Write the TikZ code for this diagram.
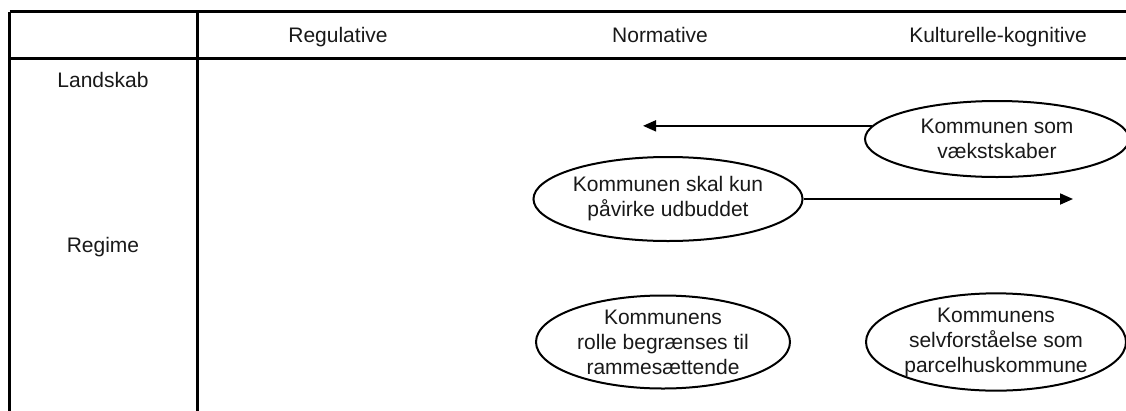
\documentclass[tikz,border=0pt]{standalone}
\usepackage{fontspec}
\setmainfont{Liberation Sans}
\usetikzlibrary{shapes.geometric,arrows.meta}
\begin{document}
\begin{tikzpicture}[x=1pt,y=-1pt,
  lbl/.style={font=\fontsize{21}{25}\selectfont, text=black!90, inner sep=0pt, anchor=base},
  oval/.style={ellipse, draw, line width=2pt, inner sep=0pt, font=\fontsize{21}{25}\selectfont, text=black!90, align=center},
  arr/.style={line width=1.8pt, -{Triangle[length=13pt,width=11pt]}},
  grid/.style={line width=2.3pt}]
\useasboundingbox (0,0) rectangle (1126,410);
\fill[white] (0,0) rectangle (1126,410);
% table
\coordinate (tl) at (9.5,11.5);
\coordinate (tr) at (1128,11.5);
\coordinate (hl) at (9.5,58.5);
\coordinate (hr) at (1128,58.5);
\coordinate (bl) at (9.5,412);
\coordinate (vt) at (197.5,11.5);
\coordinate (vb) at (197.5,412);
\draw[grid] (tl) -- (tr);
\draw[grid] (hl) -- (hr);
\draw[grid] (tl) -- (bl);
\draw[grid] (vt) -- (vb);
% headers
\node[lbl] (h1) at (338,42) {Regulative};
\node[lbl] (h2) at (660,42) {Normative};
\node[lbl] (h3) at (998,42) {Kulturelle-kognitive};
\node[lbl] (r1) at (103,87) {Landskab};
\node[lbl] (r2) at (103,252) {Regime};
% ellipses
\node[oval, minimum width=264pt, minimum height=76pt] (e1) at (997,139) {Kommunen som\\vækstskaber};
\node[oval, minimum width=262pt, minimum height=84pt] (e2) at (668,199) {Kommunen skal kun\\påvirke udbuddet};
\node[oval, minimum width=254pt, minimum height=93pt] (e3) at (663,342) {Kommunens\\rolle begrænses til\\rammesættende};
\node[oval, minimum width=260pt, minimum height=93pt] (e4) at (996,342) {Kommunens\\selvforståelse som\\parcelhuskommune};
% arrows
\coordinate (c1) at (643,128);
\coordinate (c2) at (1073,199);
\draw[arr] (e1.174) -- (e1.174 -| c1);
\draw[arr] (e2.east) -- (c2);
\end{tikzpicture}
\end{document}
